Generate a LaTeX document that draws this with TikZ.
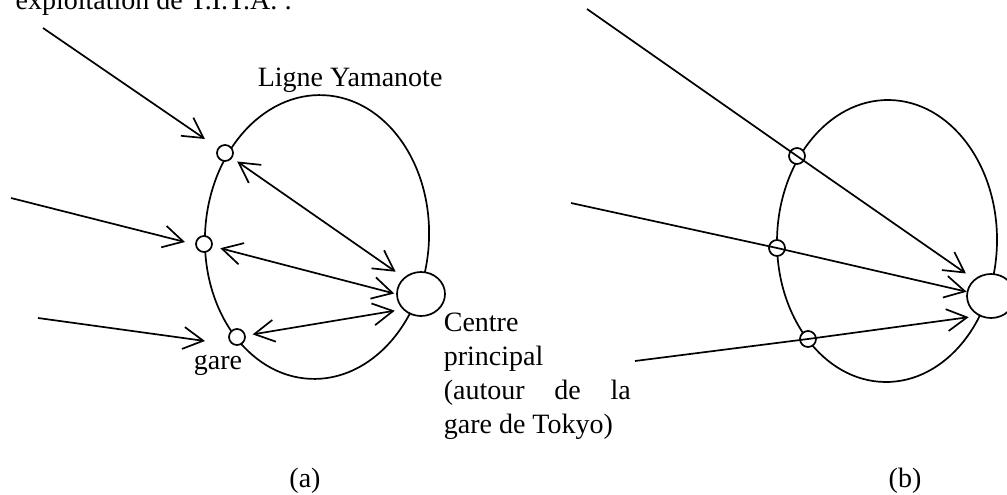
\documentclass[tikz,border=0pt]{standalone}
\usepackage{fontspec}
\setmainfont{Liberation Serif}
\usetikzlibrary{arrows.meta, positioning, shapes.geometric}
\newcommand{\station}[2]{%
  \node[circle, draw, fill=white, line width=1.7pt,
        minimum size=16pt, inner sep=0pt] (#1) at #2 {};
}
\newcommand{\hub}[2]{%
  \node[ellipse, draw, fill=white, line width=1.7pt,
        minimum width=48pt, minimum height=44pt, inner sep=0pt] (#1) at #2 {};
}

\begin{document}
\begin{tikzpicture}[x=1pt, y=-1pt, line width=1.7pt,
    font=\fontsize{28}{34}\selectfont,
    flow/.style={-{Straight Barb[length=20pt, width=22pt]}},
    both/.style={{Straight Barb[length=20pt, width=22pt]}-{Straight Barb[length=20pt, width=22pt]}},
    ring/.style={ellipse, draw, inner sep=0pt},
    lbl/.style={anchor=base west, inner sep=0pt}]
  \useasboundingbox (0,0) rectangle (1007,495);
  \clip (0,0) rectangle (1007,495);
  \node[anchor=base east, inner sep=0pt] (titre) at (293,10) {exploitation de T.I.T.A. :};

  % (a)
  \node[ring, minimum width=224pt, minimum height=284pt, rotate=-3] (yamA) at (317,237) {};
  \station{s1}{(225,153)}
  \station{s2}{(204,244)}
  \station{s3}{(237,337)}
  \hub{ca}{(421,294)}
  \coordinate (e1) at (43,28);  \coordinate (f1) at (205,139);
  \coordinate (e2) at (11,198); \coordinate (f2) at (185,242);
  \coordinate (e3) at (38,318); \coordinate (f3) at (205,341);
  \draw[flow] (e1) -- (f1);
  \draw[flow] (e2) -- (f2);
  \draw[flow] (e3) -- (f3);
  \draw[both, shorten <=6pt, shorten >=10pt] (s1) -- (ca.136);
  \draw[both, shorten <=8pt, shorten >=2pt] (s2) -- (ca.180);
  \draw[both, shorten <=7pt, shorten >=8pt] (s3) -- (ca.220);
  \node[lbl] (ligneA) at (257,86) {Ligne Yamanote};
  \node[lbl] (gareA) at (193,369) {gare};
  \node[lbl] (cen1) at (443,331) {Centre};
  \node[lbl] (cen2) at (443,365) {principal};
  \node[lbl] (cen3) at (443,399) {\makebox[187pt][s]{(autour de la}};
  \node[lbl] (cen4) at (443,433) {gare de Tokyo)};
  \node (labA) at (305,481) {(a)};

  % (b)
  \node[ring, minimum width=220pt, minimum height=282pt, rotate=-1] (yamB) at (887,241) {};
  \station{t1}{(797,156)}
  \station{t2}{(777,248)}
  \station{t3}{(808,339)}
  \hub{cb}{(991,296)}
  \coordinate (w1) at (587,9);
  \coordinate (w2) at (571,203);
  \coordinate (w3) at (635,361);
  \draw[flow, shorten >=10pt] (w1) -- (t1.center) -- (cb.135);
  \draw[flow] (w2) -- (t2.center) -- (cb.170);
  \draw[flow, shorten >=10pt] (w3) -- (t3.center) -- (cb.238);
  \node (labB) at (905,481) {(b)};
\end{tikzpicture}
\end{document}
